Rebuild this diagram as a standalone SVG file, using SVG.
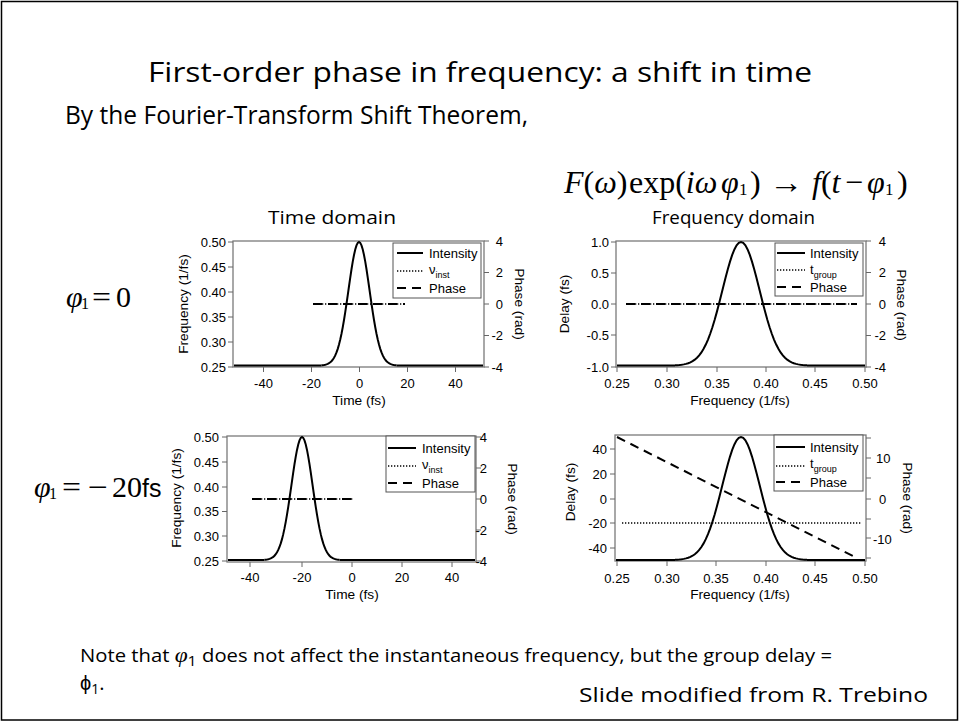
<svg xmlns="http://www.w3.org/2000/svg" width="960" height="723" viewBox="0 0 960 723">
<style>
.sl{font-family:"Open Sans","Liberation Sans",sans-serif;fill:#000}
.ax{font-family:"Liberation Sans",Arial,sans-serif;font-size:13px;fill:#000}
.lab{font-family:"Liberation Sans",Arial,sans-serif;font-size:13.7px;fill:#000}
.math{font-family:"Liberation Serif","Times New Roman",serif;fill:#000}
.frame{fill:none;stroke:#7a7a7a;stroke-width:1.3}
.tick{stroke:#666;stroke-width:1;fill:none}
.curve{fill:none;stroke:#000;stroke-width:2}
.dash{fill:none;stroke:#000;stroke-width:2;stroke-dasharray:9 6}
.dot{fill:none;stroke:#000;stroke-width:1.3;stroke-dasharray:1.3 1.7}
.leg{fill:#fff;stroke:#555;stroke-width:1}
</style>
<defs>
<path id="g" vector-effect="non-scaling-stroke" d="M-3,-0.002 L-2.9,-0.0029 -2.8,-0.0044 -2.7,-0.0064 -2.6,-0.0092 -2.5,-0.0131 -2.4,-0.0185 -2.3,-0.0256 -2.2,-0.0349 -2.1,-0.0471 -2,-0.0625 -1.9,-0.0819 -1.8,-0.1058 -1.7,-0.135 -1.6,-0.1696 -1.5,-0.2102 -1.4,-0.257 -1.3,-0.3099 -1.2,-0.3685 -1.1,-0.4323 -1,-0.5 -0.9,-0.5703 -0.8,-0.6417 -0.7,-0.712 -0.6,-0.7792 -0.5,-0.8409 -0.4,-0.895 -0.3,-0.9395 -0.2,-0.9727 -0.1,-0.9931 0,-1 0.1,-0.9931 0.2,-0.9727 0.3,-0.9395 0.4,-0.895 0.5,-0.8409 0.6,-0.7792 0.7,-0.712 0.8,-0.6417 0.9,-0.5703 1,-0.5 1.1,-0.4323 1.2,-0.3685 1.3,-0.3099 1.4,-0.257 1.5,-0.2102 1.6,-0.1696 1.7,-0.135 1.8,-0.1058 1.9,-0.0819 2,-0.0625 2.1,-0.0471 2.2,-0.0349 2.3,-0.0256 2.4,-0.0185 2.5,-0.0131 2.6,-0.0092 2.7,-0.0064 2.8,-0.0044 2.9,-0.0029 3,-0.002"/>
</defs>
<rect x="0" y="0" width="960" height="723" fill="#fff"/>
<rect x="1.5" y="1.5" width="956" height="718.5" fill="none" stroke="#000" stroke-width="1.5"/>

<g id="title">
<text class="sl" x="148" y="82" font-size="28" textLength="664" lengthAdjust="spacingAndGlyphs">First-order phase in frequency: a shift in time</text>
<text class="sl" x="65" y="124" font-size="26" textLength="463" lengthAdjust="spacingAndGlyphs">By the Fourier-Transform Shift Theorem,</text>
</g>

<g id="equation">
<text class="math" x="564" y="193" font-size="32"><tspan font-style="italic">F</tspan>(<tspan font-style="italic">ω</tspan>)</text>
<text class="math" x="629" y="193" font-size="32">exp(<tspan font-style="italic">iω</tspan></text>
<text class="math" x="721" y="193" font-size="32" font-style="italic">φ</text>
<text class="math" x="739" y="195" font-size="17">1</text>
<text class="math" x="750" y="193" font-size="32">)</text>
<text class="math" x="769" y="193" font-size="32" textLength="34" lengthAdjust="spacingAndGlyphs">→</text>
<text class="math" x="812" y="193" font-size="32"><tspan font-style="italic">f</tspan>(<tspan font-style="italic">t</tspan></text>
<text class="math" x="845" y="193" font-size="32">−</text>
<text class="math" x="867" y="193" font-size="32" font-style="italic">φ</text>
<text class="math" x="885" y="195" font-size="17">1</text>
<text class="math" x="897" y="193" font-size="32">)</text>
</g>

<g id="headers">
<text class="sl" x="268" y="224" font-size="19" textLength="128" lengthAdjust="spacingAndGlyphs">Time domain</text>
<text class="sl" x="652" y="224" font-size="19" textLength="163" lengthAdjust="spacingAndGlyphs">Frequency domain</text>
</g>

<g id="phi-zero">
<text class="math" x="66" y="307" font-size="30" font-style="italic">φ</text>
<text class="math" x="81" y="309" font-size="16">1</text>
<text class="math" x="92" y="307" font-size="30" textLength="19" lengthAdjust="spacingAndGlyphs">=</text>
<text class="math" x="116" y="307" font-size="30">0</text>
</g>

<g id="phi-20">
<text class="math" x="34" y="497" font-size="30" font-style="italic">φ</text>
<text class="math" x="49" y="499" font-size="16">1</text>
<text class="math" x="62" y="497" font-size="30" textLength="19" lengthAdjust="spacingAndGlyphs">=</text>
<text class="math" x="88" y="497" font-size="30" textLength="20" lengthAdjust="spacingAndGlyphs">−</text>
<text class="math" x="112" y="497" font-size="30">20</text>
<text x="142" y="497" font-size="25" font-family="Liberation Sans, Arial, sans-serif">fs</text>
</g>

<!-- Plot 1: time domain, phi=0 -->
<g id="plot-time-0">
<rect class="frame" x="233" y="241" width="251" height="126"/>
<path class="tick" d="M228,242H233M228,267H233M228,292H233M228,317H233M228,342H233M228,367H233 M263.5,367V372M311.5,367V372M359.5,367V372M407.5,367V372M455.5,367V372 M484,241H489M484,272.5H489M484,304H489M484,335.5H489M484,367H489"/>
<g class="ax" text-anchor="end">
<text x="226" y="246.5">0.50</text><text x="226" y="271.5">0.45</text><text x="226" y="296.5">0.40</text><text x="226" y="321.5">0.35</text><text x="226" y="346.5">0.30</text><text x="226" y="371.5">0.25</text>
<text x="503" y="245.5">4</text><text x="503" y="277">2</text><text x="503" y="308.5">0</text><text x="503" y="340">-2</text><text x="503" y="371.5">-4</text>
</g>
<g class="ax" text-anchor="middle">
<text x="263.5" y="388">-40</text><text x="311.5" y="388">-20</text><text x="359.5" y="388">0</text><text x="407.5" y="388">20</text><text x="455.5" y="388">40</text>
</g>
<text class="lab" text-anchor="middle" x="359" y="405">Time (fs)</text>
<text class="lab" text-anchor="middle" transform="translate(188,304) rotate(-90)">Frequency (1/fs)</text>
<text class="lab" text-anchor="middle" transform="translate(515,304) rotate(90)">Phase (rad)</text>
<path class="curve" d="M234,365.5H321.5M396.5,365.5H483"/>
<use href="#g" class="curve" transform="translate(359,365.5) scale(12.5,123.5)"/>
<path class="dot" d="M313,304H405"/>
<path class="dash" d="M313,304H405"/>
<rect class="leg" x="393" y="243" width="88" height="55"/>
<path class="curve" d="M397,253H423"/>
<path class="dot" d="M397,271H423"/>
<path class="dash" d="M397,288H423"/>
<text class="ax" x="429" y="258">Intensity</text>
<text class="ax" x="429" y="274">ν<tspan font-size="9" dy="4">inst</tspan></text>
<text class="ax" x="429" y="293">Phase</text>
</g>

<!-- Plot 2: frequency domain, phi=0 -->
<g id="plot-freq-0">
<rect class="frame" x="616" y="241" width="250" height="126"/>
<path class="tick" d="M611,242H616M611,273H616M611,304H616M611,335H616M611,367H616 M617,367V372M667,367V372M717,367V372M766,367V372M815,367V372M865,367V372 M866,241H871M866,272.5H871M866,304H871M866,335.5H871M866,367H871"/>
<g class="ax" text-anchor="end">
<text x="609" y="246.5">1.0</text><text x="609" y="277.5">0.5</text><text x="609" y="308.5">0.0</text><text x="609" y="339.5">-0.5</text><text x="609" y="371.5">-1.0</text>
<text x="886" y="245.5">4</text><text x="886" y="277">2</text><text x="886" y="308.5">0</text><text x="886" y="340">-2</text><text x="886" y="371.5">-4</text>
</g>
<g class="ax" text-anchor="middle">
<text x="617" y="388">0.25</text><text x="667" y="388">0.30</text><text x="717" y="388">0.35</text><text x="766" y="388">0.40</text><text x="815" y="388">0.45</text><text x="865" y="388">0.50</text>
</g>
<text class="lab" text-anchor="middle" x="740" y="405">Frequency (1/fs)</text>
<text class="lab" text-anchor="middle" transform="translate(569,304) rotate(-90)">Delay (fs)</text>
<text class="lab" text-anchor="middle" transform="translate(897,305) rotate(90)">Phase (rad)</text>
<path class="curve" d="M617,365.5H675M807,365.5H865"/>
<use href="#g" class="curve" transform="translate(741,365.5) scale(22,123.5)"/>
<path class="dot" d="M626,304H857"/>
<path class="dash" d="M626,304H857"/>
<rect class="leg" x="775" y="243" width="88" height="53"/>
<path class="curve" d="M777,253H805"/>
<path class="dot" d="M777,270H805"/>
<path class="dash" d="M777,287H805"/>
<text class="ax" x="810" y="258">Intensity</text>
<text class="ax" x="810" y="274">t<tspan font-size="9" dy="4">group</tspan></text>
<text class="ax" x="810" y="292">Phase</text>
</g>

<!-- Plot 3: time domain, phi=-20 -->
<g id="plot-time-20">
<rect class="frame" x="227" y="436" width="249" height="126"/>
<path class="tick" d="M222,437H227M222,462H227M222,487H227M222,511.5H227M222,536H227M222,561H227 M250,562V567M302,562V567M352,562V567M402,562V567M452,562V567 M476,437H481M476,468H481M476,499H481M476,530H481M476,561H481"/>
<g class="ax" text-anchor="end">
<text x="219" y="441.5">0.50</text><text x="219" y="466.5">0.45</text><text x="219" y="491.5">0.40</text><text x="219" y="516">0.35</text><text x="219" y="540.5">0.30</text><text x="219" y="565.5">0.25</text>
<text x="487" y="441.5">4</text><text x="487" y="472.5">2</text><text x="487" y="503.5">0</text><text x="487" y="534.5">-2</text><text x="487" y="565.5">-4</text>
</g>
<g class="ax" text-anchor="middle">
<text x="250" y="582">-40</text><text x="302" y="582">-20</text><text x="352" y="582">0</text><text x="402" y="582">20</text><text x="452" y="582">40</text>
</g>
<text class="lab" text-anchor="middle" x="352" y="599">Time (fs)</text>
<text class="lab" text-anchor="middle" transform="translate(181,498) rotate(-90)">Frequency (1/fs)</text>
<text class="lab" text-anchor="middle" transform="translate(508,499) rotate(90)">Phase (rad)</text>
<path class="curve" d="M228,560H264.5M339.5,560H475"/>
<use href="#g" class="curve" transform="translate(302,560) scale(12.5,123)"/>
<path class="dot" d="M252,499H354"/>
<path class="dash" d="M252,499H354"/>
<rect class="leg" x="386" y="436" width="89" height="56"/>
<path class="curve" d="M388,448H416"/>
<path class="dot" d="M388,466H416"/>
<path class="dash" d="M388,483H416"/>
<text class="ax" x="422" y="453">Intensity</text>
<text class="ax" x="422" y="469">ν<tspan font-size="9" dy="4">inst</tspan></text>
<text class="ax" x="422" y="488">Phase</text>
</g>

<!-- Plot 4: frequency domain, phi=-20 -->
<g id="plot-freq-20">
<rect class="frame" x="615" y="435" width="251" height="126"/>
<path class="tick" d="M610,449H615M610,474H615M610,499H615M610,523H615M610,548H615 M617,561V566M667,561V566M716,561V566M766,561V566M815,561V566M865,561V566 M866,438H871M866,458H871M866,478H871M866,499H871M866,519H871M866,538H871M866,558H871"/>
<g class="ax" text-anchor="end">
<text x="607" y="453.5">40</text><text x="607" y="478.5">20</text><text x="607" y="503.5">0</text><text x="607" y="527.5">-20</text><text x="607" y="552.5">-40</text>
</g>
<g class="ax">
<text x="876" y="462.5">10</text><text x="879" y="503.5">0</text><text x="873" y="543.5">-10</text>
</g>
<g class="ax" text-anchor="middle">
<text x="617" y="583">0.25</text><text x="667" y="583">0.30</text><text x="716" y="583">0.35</text><text x="766" y="583">0.40</text><text x="815" y="583">0.45</text><text x="865" y="583">0.50</text>
</g>
<text class="lab" text-anchor="middle" x="740" y="599">Frequency (1/fs)</text>
<text class="lab" text-anchor="middle" transform="translate(575,492) rotate(-90)">Delay (fs)</text>
<text class="lab" text-anchor="middle" transform="translate(903,498) rotate(90)">Phase (rad)</text>
<path class="curve" d="M616,560H675M807,560H865"/>
<use href="#g" class="curve" transform="translate(741,560) scale(22,123)"/>
<path class="dot" d="M622,523H862"/>
<path class="dash" d="M617,437L853,556"/>
<rect class="leg" x="774" y="435" width="89" height="56"/>
<path class="curve" d="M776,447H805"/>
<path class="dot" d="M776,466H805"/>
<path class="dash" d="M776,482H805"/>
<text class="ax" x="810" y="452">Intensity</text>
<text class="ax" x="810" y="468">t<tspan font-size="9" dy="4">group</tspan></text>
<text class="ax" x="810" y="487">Phase</text>
</g>

<g id="footer">
<text class="sl" x="80" y="662" font-size="19" textLength="752" lengthAdjust="spacingAndGlyphs">Note that <tspan class="math" font-style="italic" font-size="22">φ</tspan><tspan font-size="15" dy="4">1</tspan><tspan dy="-4"> does not affect the instantaneous frequency, but the group delay =</tspan></text>
<text class="sl" x="80" y="690" font-size="20">ϕ<tspan font-size="14" dy="4">1</tspan><tspan dy="-4">.</tspan></text>
<text class="sl" x="579" y="702" font-size="20" textLength="349" lengthAdjust="spacingAndGlyphs">Slide modified from R. Trebino</text>
</g>
</svg>
